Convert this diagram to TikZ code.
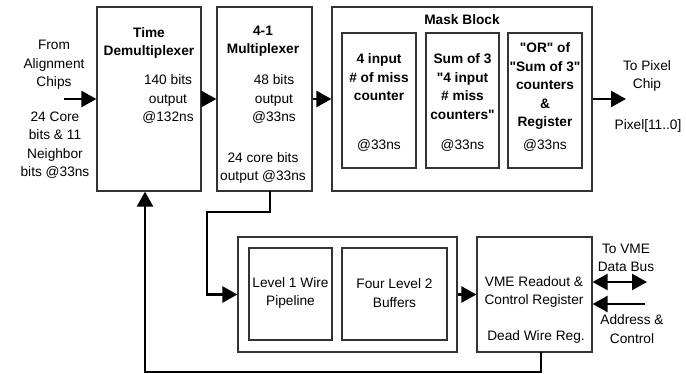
\documentclass[tikz,border=0pt]{standalone}
\usepackage{fontspec}
\setmainfont{Liberation Sans}
\usepackage{tikz}
\usetikzlibrary{arrows.meta,positioning}

\begin{document}
\begin{tikzpicture}[x=1pt,y=-1pt,
	blk/.style={draw=black!80,line width=1.2pt,inner sep=0pt},
	txt/.style={align=center,inner sep=0pt,font=\fontsize{13.7}{18.5}\selectfont},
	btxt/.style={txt,font=\fontsize{13.7}{18.5}\selectfont\bfseries},
	flow/.style={line width=2.3pt,-{Triangle[length=15pt,width=16pt]}},
	flowboth/.style={line width=2.3pt,{Triangle[length=15pt,width=16pt]}-{Triangle[length=15pt,width=16pt]}}]
	\useasboundingbox (0,0) rectangle (686,374);

	\node[blk,minimum width=104pt,minimum height=184pt] (demux) at (149,99) {};
	\node[blk,minimum width=95pt,minimum height=184pt] (mux) at (264.5,99) {};
	\node[blk,minimum width=260pt,minimum height=184pt] (mask) at (462,99) {};
	\node[blk,minimum width=74pt,minimum height=135pt] (miss) at (379,100.5) {};
	\node[blk,minimum width=73pt,minimum height=135pt] (sum) at (462.5,100.5) {};
	\node[blk,minimum width=74pt,minimum height=135pt] (orreg) at (545,100.5) {};
	\node[blk,minimum width=219pt,minimum height=115pt] (pipe) at (347.5,294.5) {};
	\node[blk,minimum width=83pt,minimum height=92pt] (lvl1) at (290.5,294) {};
	\node[blk,minimum width=105pt,minimum height=92pt] (lvl2) at (394.5,294) {};
	\node[blk,minimum width=115pt,minimum height=115pt] (vme) at (534.5,294.5) {};

	\node[txt] (from) at (54,65) {From\\Alignment\\Chips};
	\node[txt] (core) at (55,145) {24 Core\\bits \& 11\\Neighbor\\bits @33ns};
	\node[btxt] (demuxname) at (149,43) {Time\\Demultiplexer};
	\node[txt] (demuxout) at (168,99) {140 bits\\output\\@132ns};
	\node[btxt] (muxname) at (263,41) {4-1\\Multiplexer};
	\node[txt] (muxout) at (274,99) {48 bits\\output\\@33ns};
	\node[txt] (muxcore) at (263,168) {24 core bits\\output @33ns};
	\node[btxt] (maskname) at (462,20) {Mask Block};
	\node[btxt] (missname) at (379,77.5) {4 input\\\# of miss\\counter};
	\node[btxt] (sumname) at (462.5,86.5) {Sum of 3\\\textquotedbl 4 input\\\# miss\\counters\textquotedbl};
	\node[btxt] (orname) at (545,86) {\textquotedbl OR\textquotedbl{} of\\\textquotedbl Sum of 3\textquotedbl\\counters\\\&\\Register};
	\node[txt] (misst) at (379,145) {@33ns};
	\node[txt] (sumt) at (462.5,145) {@33ns};
	\node[txt] (ort) at (545,145) {@33ns};
	\node[txt] (topixel) at (647,76) {To Pixel\\Chip};
	\node[txt] (pixel) at (648,126) {Pixel[11..0]};
	\node[txt] (lvl1name) at (290.5,293) {Level 1 Wire\\Pipeline};
	\node[txt] (lvl2name) at (394.5,293) {Four Level 2\\Buffers};
	\node[txt] (vmename) at (534,292) {VME Readout \&\\Control Register};
	\node[txt] (dead) at (536,337) {Dead Wire Reg.};
	\node[txt] (bus) at (626,258) {To VME\\Data Bus};
	\node[txt] (addr) at (632,329) {Address \&\\Control};

	\coordinate (in) at (64,99);
	\coordinate (out) at (626,99);
	\coordinate (busend) at (647,282);
	\coordinate (addrend) at (645,304);
	\coordinate (muxdrop) at (270,191);
	\coordinate (turn) at (207,212);
	\coordinate (vmedrop) at (541,352);
	\coordinate (back) at (145,372);

	\draw[flow] (in) -- (demux.west);
	\draw[flow] (demux.east) -- (mux.west);
	\draw[flow] (mux.east) -- (mask.west);
	\draw[flow] (mask.east) -- (out);
	\draw[flow] (muxdrop) |- (turn) |- (pipe.west);
	\draw[flow] (pipe.east) -- (vme.west);
	\draw[flowboth] (vme.east |- busend) -- (busend);
	\draw[flow] (addrend) -- (vme.east |- addrend);
	\draw[flow] (vmedrop) |- (back) -- (back |- demux.south);
\end{tikzpicture}
\end{document}
